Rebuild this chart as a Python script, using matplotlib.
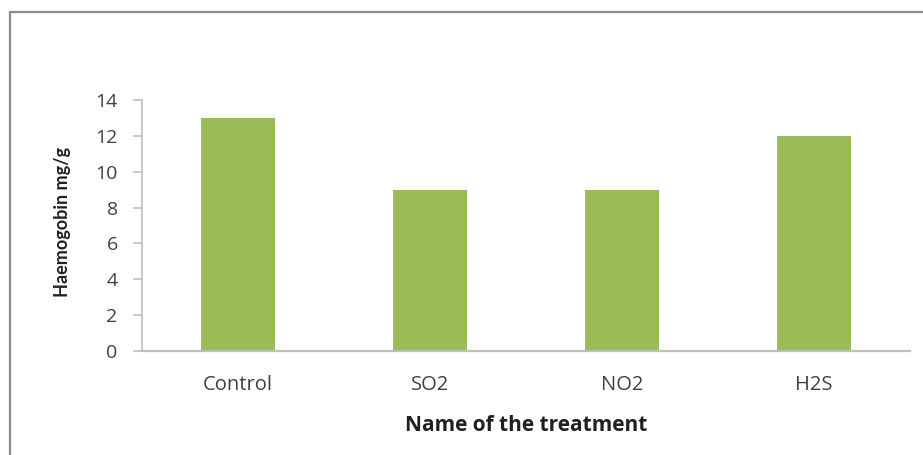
import matplotlib.pyplot as plt
from matplotlib.patches import Rectangle

# haemoglobin content per treatment
treatments = ["Control", "SO2", "NO2", "H2S"]
haemoglobin = [13, 9, 9, 12]
yticks = [0, 2, 4, 6, 8, 10, 12, 14]

plt.rcParams["font.family"] = ["Open Sans", "DejaVu Sans"]

fig = plt.figure(figsize=(9.23, 4.55), dpi=100)
ax = fig.add_axes([142 / 923, 1 - 351 / 455, 768 / 923, 251 / 455])

x = range(len(treatments))
ax.bar(x, haemoglobin, width=0.39, color="#9BBB59", zorder=2)
ax.set_xlim(-0.5, len(treatments) - 0.5)
ax.set_ylim(0, 14)
ax.set_yticks(yticks)
ax.set_xticks(list(x))
ax.set_xticklabels(treatments)

for side in ["top", "right"]:
    ax.spines[side].set_visible(False)
ax.spines["left"].set_color("#BFBFBF")
ax.spines["bottom"].set_color("#BFBFBF")
ax.spines["left"].set_linewidth(1.2)
ax.spines["bottom"].set_linewidth(1.6)
ax.tick_params(axis="y", length=6.5, width=1.2, color="#BFBFBF",
               labelsize=14, labelcolor="#404040", pad=11)
ax.tick_params(axis="x", length=0, labelsize=14.5, labelcolor="#404040", pad=17)

ax.set_ylabel("Haemogobin mg/g", fontsize=13, fontweight="bold",
              family=["Lato", "DejaVu Sans"], color="#202020")
ax.yaxis.set_label_coords(-0.093, 0.515)
ax.set_xlabel("Name of the treatment", fontsize=15, fontweight="bold",
              color="#202020", labelpad=15)

# outer chart border
fig.patches.append(Rectangle((10 / 923, -0.1), 1.2, 1.1 - 12 / 455,
                             transform=fig.transFigure, fill=False,
                             edgecolor="#8C8C8C", linewidth=1.6))

fig.savefig("out.png", dpi=100)
